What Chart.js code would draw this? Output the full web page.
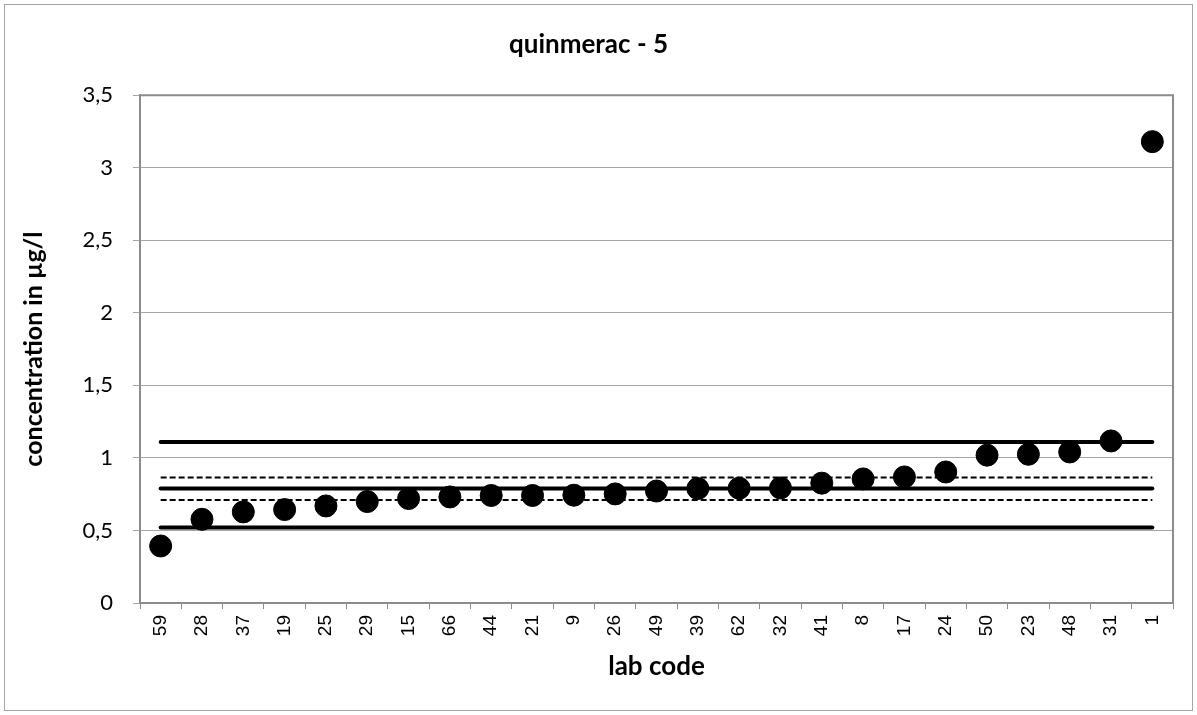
<!DOCTYPE html>
<html>
<head>
<meta charset="utf-8">
<script src="https://cdn.jsdelivr.net/npm/chart.js@4.4.0/dist/chart.umd.min.js"></script>
<style>
  html, body { margin: 0; padding: 0; background: #fff; }
  #wrap { width: 1197px; height: 715px; }
</style>
</head>
<body>
<div id="wrap"><canvas id="chart"></canvas></div>
<script>
const labCodes = ["59", "28", "37", "19", "25", "29", "15", "66", "44", "21", "9", "26", "49", "39", "62", "32", "41", "8", "17", "24", "50", "23", "48", "31", "1"];
const concentrations = [0.393, 0.577, 0.628, 0.644, 0.669, 0.699, 0.72, 0.731, 0.741, 0.741, 0.743, 0.752, 0.772, 0.789, 0.791, 0.793, 0.826, 0.855, 0.869, 0.903, 1.019, 1.025, 1.041, 1.117, 3.18];
const assignedValue = 0.789;
const upperLimit = 1.11;
const lowerLimit = 0.52;
const upperUncertainty = 0.865;
const lowerUncertainty = 0.71;
const yTicks = [0, 0.5, 1, 1.5, 2, 2.5, 3, 3.5];

const flat = (v) => labCodes.map(() => v);

const solidLine = (v) => ({
  data: flat(v),
  borderColor: "#000",
  borderWidth: 4,
  borderCapStyle: "round",
  pointRadius: 0,
  pointHoverRadius: 0,
  fill: false,
  order: 2,
});
const dashedLine = (v) => ({
  data: flat(v),
  borderColor: "#000",
  borderWidth: 2,
  borderDash: [6, 3],
  pointRadius: 0,
  pointHoverRadius: 0,
  fill: false,
  order: 2,
});

// grey frame around the chart and around the plot area
const frames = {
  id: "frames",
  afterDraw(chart) {
    const { ctx, chartArea } = chart;
    ctx.save();
    ctx.strokeStyle = "#a6a6a6";
    ctx.lineWidth = 1;
    ctx.strokeRect(4.5, 4.5, chart.width - 9, chart.height - 9);
    ctx.strokeStyle = "#8c8c8c";
    ctx.lineWidth = 2;
    ctx.beginPath();
    ctx.moveTo(chartArea.left, chartArea.top);
    ctx.lineTo(chartArea.right, chartArea.top);
    ctx.lineTo(chartArea.right, chartArea.bottom);
    ctx.stroke();
    ctx.restore();
  },
};

new Chart(document.getElementById("chart"), {
  type: "line",
  data: {
    labels: labCodes,
    datasets: [
      {
        data: concentrations,
        showLine: false,
        pointRadius: 11,
        pointHoverRadius: 11,
        pointBackgroundColor: "#000",
        pointBorderColor: "#000",
        order: 1,
      },
      solidLine(upperLimit),
      dashedLine(upperUncertainty),
      solidLine(assignedValue),
      dashedLine(lowerUncertainty),
      solidLine(lowerLimit),
    ],
  },
  options: {
    responsive: true,
    maintainAspectRatio: false,
    animation: false,
    layout: { padding: { left: 4, right: 24, top: 0, bottom: 0 } },
    plugins: {
      legend: { display: false },
      tooltip: { enabled: false },
      title: {
        display: true,
        text: "quinmerac - 5",
        color: "#000",
        font: { family: "Lato", size: 26, weight: "bold" },
        padding: { top: 29, bottom: 35 },
      },
    },
    scales: {
      x: {
        offset: true,
        afterFit: (axis) => {
          axis.height = 112;
        },
        grid: {
          offset: true,
          drawOnChartArea: false,
          color: "#8c8c8c",
          tickLength: 6,
        },
        border: { color: "#8c8c8c", width: 2 },
        ticks: {
          color: "#000",
          maxRotation: 90,
          minRotation: 90,
          autoSkip: false,
          padding: 6,
          font: { family: "Liberation Sans", size: 19 },
        },
        title: {
          display: true,
          text: "lab code",
          color: "#000",
          font: { family: "Lato", size: 26, weight: "bold" },
          padding: { top: 6, bottom: 33 },
        },
      },
      y: {
        min: 0,
        max: 3.5,
        afterBuildTicks: (axis) => {
          axis.ticks = yTicks.map((v) => ({ value: v }));
        },
        afterFit: (axis) => {
          axis.width = 136;
        },
        grid: {
          color: "#a6a6a6",
          lineWidth: 1,
          tickLength: 7,
        },
        border: { color: "#8c8c8c", width: 2 },
        ticks: {
          color: "#000",
          padding: 20,
          font: { family: "Lato", size: 22 },
          callback: (v) => String(v).replace(".", ","),
        },
        title: {
          display: true,
          text: "concentration in µg/l",
          color: "#000",
          font: { family: "Lato", size: 25, weight: "bold" },
          padding: { top: 15, bottom: 0 },
        },
      },
    },
  },
  plugins: [frames],
});
</script>
</body>
</html>
